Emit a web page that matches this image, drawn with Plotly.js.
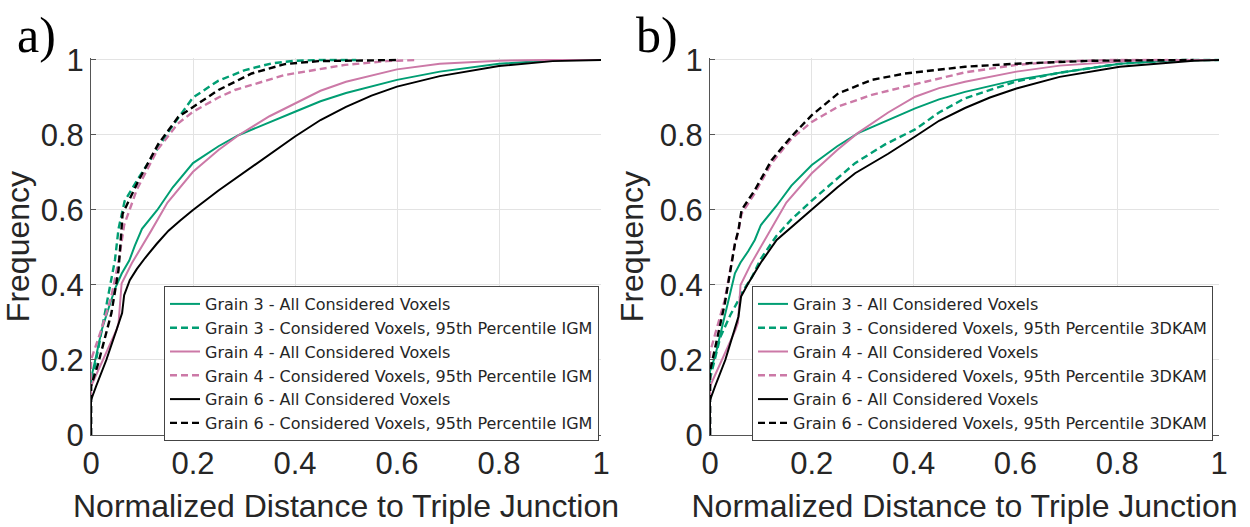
<!DOCTYPE html>
<html>
<head>
<meta charset="utf-8">
<script src="https://cdn.plot.ly/plotly-3.0.1.min.js"></script>
<style>
  html, body { margin: 0; padding: 0; background: #ffffff; }
  #chart { width: 1250px; height: 527px; }
</style>
</head>
<body>
<div id="chart"></div>
<script>
// ---------------- data ----------------
const tickVals = [0, 0.2, 0.4, 0.6, 0.8, 1];
const tickLabels = ['0', '0.2', '0.4', '0.6', '0.8', '1'];
const xTitle = 'Normalized Distance to Triple Junction';
const yTitle = 'Frequency';
const panelLabels = ['a)', 'b)'];

const namesA = [
  'Grain 3 - All Considered Voxels',
  'Grain 3 - Considered Voxels, 95th Percentile IGM',
  'Grain 4 - All Considered Voxels',
  'Grain 4 - Considered Voxels, 95th Percentile IGM',
  'Grain 6 - All Considered Voxels',
  'Grain 6 - Considered Voxels, 95th Percentile IGM'
];
const namesB = [
  'Grain 3 - All Considered Voxels',
  'Grain 3 - Considered Voxels, 95th Percentile 3DKAM',
  'Grain 4 - All Considered Voxels',
  'Grain 4 - Considered Voxels, 95th Percentile 3DKAM',
  'Grain 6 - All Considered Voxels',
  'Grain 6 - Considered Voxels, 95th Percentile 3DKAM'
];

// Panel a
const aG3AllX = [0, 0, 0.01, 0.021, 0.035, 0.047, 0.06, 0.075, 0.086, 0.1, 0.13, 0.16, 0.2, 0.25, 0.29, 0.35, 0.4, 0.45, 0.5, 0.6, 0.684, 0.8, 0.91, 1];
const aG3AllY = [0, 0.15, 0.21, 0.28, 0.34, 0.39, 0.43, 0.465, 0.505, 0.55, 0.6, 0.66, 0.725, 0.77, 0.8, 0.835, 0.862, 0.89, 0.912, 0.947, 0.969, 0.99, 1, 1];
const aG3DashX = [0, 0, 0.01, 0.027, 0.047, 0.054, 0.066, 0.093, 0.112, 0.132, 0.155, 0.2, 0.25, 0.302, 0.354, 0.4, 0.45, 0.52];
const aG3DashY = [0, 0.13, 0.2, 0.325, 0.467, 0.55, 0.624, 0.685, 0.725, 0.77, 0.815, 0.9, 0.945, 0.973, 0.991, 0.998, 1, 1];
const aG4AllX = [0, 0, 0.01, 0.03, 0.05, 0.054, 0.057, 0.06, 0.08, 0.106, 0.119, 0.15, 0.2, 0.25, 0.29, 0.35, 0.4, 0.45, 0.5, 0.6, 0.684, 0.8, 0.894, 1];
const aG4AllY = [0, 0.13, 0.16, 0.22, 0.28, 0.298, 0.342, 0.404, 0.458, 0.52, 0.547, 0.62, 0.702, 0.76, 0.8, 0.85, 0.885, 0.918, 0.942, 0.975, 0.99, 0.998, 1, 1];
const aG4DashX = [0, 0, 0.02, 0.04, 0.055, 0.065, 0.09, 0.13, 0.17, 0.2, 0.25, 0.282, 0.38, 0.498, 0.58, 0.64];
const aG4DashY = [0, 0.2, 0.28, 0.37, 0.47, 0.56, 0.655, 0.76, 0.83, 0.862, 0.9, 0.92, 0.96, 0.987, 0.997, 1];
const aG6AllX = [0, 0, 0.01, 0.03, 0.05, 0.061, 0.065, 0.076, 0.09, 0.106, 0.129, 0.152, 0.175, 0.2, 0.25, 0.3, 0.35, 0.4, 0.45, 0.5, 0.55, 0.6, 0.684, 0.8, 0.905, 1];
const aG6AllY = [0, 0.093, 0.13, 0.2, 0.28, 0.325, 0.373, 0.413, 0.443, 0.472, 0.51, 0.545, 0.572, 0.6, 0.652, 0.7, 0.75, 0.796, 0.84, 0.875, 0.905, 0.929, 0.957, 0.984, 0.997, 1];
const aG6DashX = [0, 0, 0.014, 0.04, 0.054, 0.058, 0.062, 0.093, 0.132, 0.171, 0.2, 0.25, 0.315, 0.38, 0.446, 0.52, 0.6];
const aG6DashY = [0, 0.13, 0.19, 0.325, 0.44, 0.52, 0.59, 0.678, 0.776, 0.848, 0.875, 0.92, 0.964, 0.989, 0.997, 0.999, 1];

// Panel b
const bG3AllX = [0, 0, 0.01, 0.03, 0.049, 0.06, 0.075, 0.088, 0.1, 0.13, 0.16, 0.2, 0.25, 0.291, 0.35, 0.403, 0.45, 0.501, 0.602, 0.687, 0.805, 0.92, 1];
const bG3AllY = [0, 0.17, 0.21, 0.32, 0.431, 0.46, 0.49, 0.52, 0.56, 0.61, 0.665, 0.72, 0.77, 0.805, 0.84, 0.871, 0.895, 0.915, 0.947, 0.966, 0.99, 1, 1];
const bG3DashX = [0, 0, 0.02, 0.04, 0.056, 0.065, 0.082, 0.1, 0.13, 0.16, 0.2, 0.226, 0.285, 0.344, 0.403, 0.45, 0.501, 0.602, 0.687, 0.805, 0.92, 1];
const bG3DashY = [0, 0.15, 0.26, 0.32, 0.36, 0.385, 0.42, 0.47, 0.53, 0.575, 0.625, 0.655, 0.725, 0.775, 0.815, 0.86, 0.898, 0.943, 0.966, 0.99, 1, 1];
const bG4AllX = [0, 0, 0.01, 0.03, 0.05, 0.055, 0.06, 0.08, 0.108, 0.15, 0.2, 0.25, 0.29, 0.35, 0.403, 0.45, 0.501, 0.602, 0.687, 0.85, 1];
const bG4AllY = [0, 0.13, 0.16, 0.22, 0.28, 0.3, 0.4, 0.455, 0.52, 0.62, 0.698, 0.76, 0.805, 0.86, 0.902, 0.925, 0.942, 0.969, 0.985, 1, 1];
const bG4DashX = [0, 0, 0.029, 0.049, 0.056, 0.062, 0.088, 0.121, 0.16, 0.2, 0.252, 0.318, 0.383, 0.501, 0.602, 0.687, 0.79, 0.9];
const bG4DashY = [0, 0.22, 0.36, 0.51, 0.545, 0.59, 0.645, 0.725, 0.79, 0.835, 0.876, 0.907, 0.929, 0.967, 0.987, 0.996, 1, 1];
const bG6AllX = [0, 0, 0.01, 0.03, 0.056, 0.061, 0.075, 0.1, 0.131, 0.154, 0.2, 0.25, 0.285, 0.35, 0.403, 0.45, 0.501, 0.55, 0.602, 0.687, 0.805, 0.95, 1];
const bG6AllY = [0, 0.093, 0.13, 0.2, 0.316, 0.369, 0.404, 0.46, 0.52, 0.547, 0.6, 0.66, 0.698, 0.75, 0.796, 0.838, 0.872, 0.9, 0.924, 0.955, 0.982, 0.998, 1];
const bG6DashX = [0, 0, 0.029, 0.049, 0.056, 0.062, 0.088, 0.121, 0.16, 0.2, 0.252, 0.318, 0.383, 0.501, 0.6, 0.75, 0.95];
const bG6DashY = [0, 0.17, 0.35, 0.51, 0.547, 0.6, 0.653, 0.733, 0.796, 0.853, 0.911, 0.947, 0.964, 0.982, 0.99, 0.998, 1];

// ---------------- styling ----------------
const GREEN = '#009E73';
const PINK = '#CC79A7';
const BLACK = '#000000';
const TXT = '#262626';
const DASH = '7px,4px';
const FONT = '"Liberation Sans", Arial, Helvetica, sans-serif';
const LEGFONT = '"DejaVu Sans", "Liberation Sans", Arial, sans-serif';
const SERIF = '"Liberation Serif", "Times New Roman", serif';

function tr(x, y, name, color, dashed, xa, ya, leg) {
  return {
    type: 'scatter', mode: 'lines', x: x, y: y, name: name,
    xaxis: xa, yaxis: ya, legend: leg,
    line: { color: color, width: dashed ? 2.4 : 2, dash: dashed ? DASH : 'solid' },
    hoverinfo: 'skip'
  };
}

const colors = [GREEN, GREEN, PINK, PINK, BLACK, BLACK];
const dashes = [false, true, false, true, false, true];
const dataA = [[aG3AllX, aG3AllY], [aG3DashX, aG3DashY], [aG4AllX, aG4AllY], [aG4DashX, aG4DashY], [aG6AllX, aG6AllY], [aG6DashX, aG6DashY]];
const dataB = [[bG3AllX, bG3AllY], [bG3DashX, bG3DashY], [bG4AllX, bG4AllY], [bG4DashX, bG4DashY], [bG6AllX, bG6AllY], [bG6DashX, bG6DashY]];

const traces = [];
dataA.forEach((d, i) => traces.push(tr(d[0], d[1], namesA[i], colors[i], dashes[i], 'x', 'y', 'legend')));
dataB.forEach((d, i) => traces.push(tr(d[0], d[1], namesB[i], colors[i], dashes[i], 'x2', 'y2', 'legend2')));

const W = 1250, H = 527;
const yTopPx = 60, yBotPx = 435;          // pixel rows of y=1 and y=0
const yMax = 1.005;
const yDomTopPx = yBotPx - (yBotPx - yTopPx) * yMax;
const yDom = [(H - yBotPx) / H, (H - yDomTopPx) / H];

function xAxis(dom) {
  return {
    domain: dom, range: [0, 1], tickmode: 'array', tickvals: tickVals, ticktext: tickLabels,
    showgrid: true, gridcolor: '#e3e3e3', gridwidth: 1, zeroline: false,
    showline: true, linecolor: '#555555', linewidth: 1,
    ticks: 'inside', ticklen: 5, tickcolor: '#555555', tickwidth: 1,
    tickfont: { family: FONT, size: 31, color: TXT }, ticklabelstandoff: 1,
    title: { text: xTitle, font: { family: FONT, size: 32, color: TXT }, standoff: 14 },
    automargin: false, fixedrange: true
  };
}
function yAxis(dom, anchor) {
  return {
    domain: dom, range: [0, yMax], anchor: anchor, tickmode: 'array', tickvals: tickVals, ticktext: tickLabels,
    showgrid: true, gridcolor: '#e3e3e3', gridwidth: 1, zeroline: false,
    showline: true, linecolor: '#555555', linewidth: 1,
    ticks: 'inside', ticklen: 5, tickcolor: '#555555', tickwidth: 1,
    tickfont: { family: FONT, size: 31, color: TXT }, ticklabelstandoff: 0,
    title: { text: yTitle, font: { family: FONT, size: 32, color: TXT }, standoff: 6 },
    automargin: false, fixedrange: true
  };
}

function legendAt(xpx) {
  return {
    x: xpx / W, y: (H - 286) / H, xanchor: 'left', yanchor: 'top',
    xref: 'paper', yref: 'paper',
    bgcolor: '#ffffff', bordercolor: '#444444', borderwidth: 1,
    font: { family: LEGFONT, size: 16, color: TXT },
    itemwidth: 30, tracegroupgap: 0, traceorder: 'normal'
  };
}

const layout = {
  width: W, height: H,
  margin: { l: 0, r: 0, t: 0, b: 0 },
  paper_bgcolor: '#ffffff', plot_bgcolor: '#ffffff',
  showlegend: true,
  xaxis: Object.assign(xAxis([91 / W, 601 / W]), { anchor: 'y' }),
  yaxis: yAxis(yDom, 'x'),
  xaxis2: Object.assign(xAxis([710 / W, 1219 / W]), { anchor: 'y2' }),
  yaxis2: yAxis(yDom, 'x2'),
  legend: legendAt(164),
  legend2: legendAt(752),
  annotations: [
    { text: panelLabels[0], xref: 'paper', yref: 'paper', x: 36 / W, y: (H - 35) / H, xanchor: 'center', yanchor: 'middle', showarrow: false, font: { family: SERIF, size: 50, color: '#000' } },
    { text: panelLabels[1], xref: 'paper', yref: 'paper', x: 657 / W, y: (H - 35) / H, xanchor: 'center', yanchor: 'middle', showarrow: false, font: { family: SERIF, size: 50, color: '#000' } }
  ]
};

Plotly.newPlot('chart', traces, layout, { displayModeBar: false, staticPlot: true });
</script>
</body>
</html>
